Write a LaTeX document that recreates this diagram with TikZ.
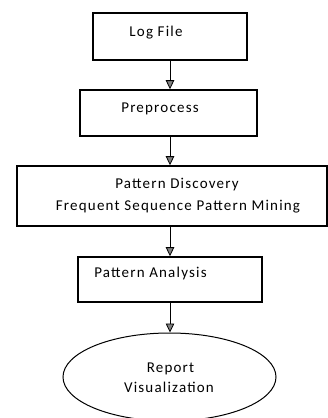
\documentclass[tikz,border=0pt]{standalone}
\usepackage{fontspec}
\setmainfont{Carlito}[LetterSpace=8]
\usetikzlibrary{arrows.meta,shapes.geometric}
\tikzset{
  stepbox/.style={draw, line width=1.6pt, inner sep=0pt},
  steptext/.style={anchor=base, inner sep=0pt, font=\fontsize{15}{20}\selectfont},
  flow/.style={draw, line width=1pt, -{Triangle[width=8.5pt,length=9pt,line width=0.8pt,fill=gray]}}
}
\begin{document}
\begin{tikzpicture}[x=1pt,y=-1pt]
    \useasboundingbox (0,0) rectangle (328,418);
    % boxes
    \node[stepbox, minimum width=154pt, minimum height=47pt] (log) at (170,36.5) {};
    \node[stepbox, minimum width=177pt, minimum height=46pt] (prep) at (168.5,113) {};
    \node[stepbox, minimum width=310pt, minimum height=60pt] (disc) at (172,196) {};
    \node[stepbox, minimum width=184pt, minimum height=45pt] (anal) at (170,279.5) {};
    \node[draw, ellipse, line width=1pt, inner sep=0pt, minimum width=213pt, minimum height=88pt] (report) at (169.5,377) {};
    % texts
    \node[steptext] (logtxt) at (156,36) {Log File};
    \node[steptext] (preptxt) at (160,112.5) {Preprocess};
    \node[steptext] (disctxta) at (177,188) {Pattern Discovery};
    \node[steptext] (disctxtb) at (178,210.5) {Frequent Sequence Pattern Mining};
    \node[steptext] (analtxt) at (150.5,277) {Pattern Analysis};
    \node[steptext] (reporttxta) at (170.5,372.5) {Report};
    \node[steptext] (reporttxtb) at (169,392.5) {Visualization};
    % arrows
    \foreach \a/\b in {log/prep,prep/disc,disc/anal,anal/report}
        \draw[flow] (\a.south -| log.south) -- (\b.north -| log.south);
\end{tikzpicture}
\end{document}
